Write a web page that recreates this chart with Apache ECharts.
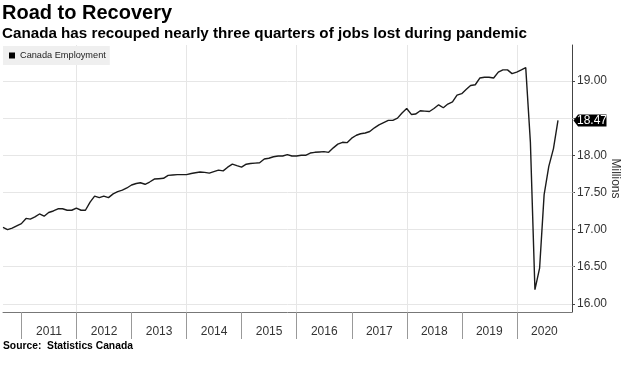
<!DOCTYPE html>
<html>
<head>
<meta charset="utf-8">
<script src="https://cdn.jsdelivr.net/npm/echarts@6/dist/echarts.min.js"></script>
<style>
html,body{margin:0;padding:0;background:#fff;}
#chart{width:625px;height:373px;}
</style>
</head>
<body>
<div id="chart"></div>
<script>
// ---- data (monthly, seasonally adjusted, millions) ----
const seriesName = 'Canada Employment';
const startYear = 2010;
const startMonthIndex = 7; // August (0 = January)
const employment = [
  17.03, 17.00, 17.02, 17.05, 17.08,                               // Aug-Dec 2010
  17.15, 17.14, 17.17, 17.21, 17.18, 17.23, 17.25, 17.28, 17.28, 17.26, 17.26, 17.29, // 2011
  17.26, 17.26, 17.37, 17.45, 17.43, 17.45, 17.43, 17.48, 17.51, 17.53, 17.56, 17.60, // 2012
  17.62, 17.63, 17.61, 17.64, 17.68, 17.685, 17.69, 17.73, 17.735, 17.74, 17.74, 17.74, // 2013
  17.755, 17.765, 17.775, 17.77, 17.76, 17.78, 17.80, 17.79, 17.84, 17.88, 17.86, 17.84, // 2014
  17.88, 17.89, 17.895, 17.90, 17.95, 17.96, 17.98, 17.99, 17.99, 18.01, 17.99, 17.99, // 2015
  18.00, 18.00, 18.03, 18.04, 18.045, 18.05, 18.04, 18.10, 18.15, 18.175, 18.17, 18.23, // 2016
  18.27, 18.29, 18.30, 18.32, 18.37, 18.41, 18.44, 18.47, 18.47, 18.50, 18.57, 18.63, // 2017
  18.55, 18.555, 18.60, 18.595, 18.59, 18.63, 18.68, 18.64, 18.69, 18.72, 18.81, 18.83, // 2018
  18.89, 18.94, 18.95, 19.04, 19.05, 19.05, 19.04, 19.12, 19.15, 19.15, 19.10, 19.12, // 2019
  19.15, 19.18, 18.17, 16.19, 16.48, 17.47, 17.85, 18.09, 18.47     // Jan-Sep 2020
];
const yearLabels = [2011, 2012, 2013, 2014, 2015, 2016, 2017, 2018, 2019, 2020];
const gridYears = [2012, 2014, 2016, 2018, 2020];
const yTickValues = [16, 16.5, 17, 17.5, 18, 18.5, 19];
const yLabelValues = [16, 16.5, 17, 17.5, 18, 19]; // 18.50 is hidden behind the last-value tag
const yAxisName = 'Millions';
const titleText = 'Road to Recovery';
const subtitleText = 'Canada has recouped nearly three quarters of jobs lost during pandemic';
const sourceText = 'Source:  Statistics Canada';

// month-end dates (UTC ms) for each observation
const points = employment.map((v, i) => [Date.UTC(startYear, startMonthIndex + i + 1, 0), v]);
const last = points[points.length - 1];

const xMin = Date.UTC(2010, 7, 31);
const xMax = Date.UTC(2021, 0, 1);
const yearStarts = yearLabels.map(y => Date.UTC(y, 0, 1));
const yearMids = yearLabels.map(y => Date.UTC(y, 6, 2));
const gridStarts = gridYears.map(y => Date.UTC(y, 0, 1));

const axisFont = 'Liberation Sans';
const chart = echarts.init(document.getElementById('chart'), null, {renderer: 'canvas'});
chart.setOption({
  animation: false,
  backgroundColor: '#ffffff',
  title: [
    {text: titleText, left: 2, top: 3, padding: 0,
     textStyle: {fontFamily: 'Liberation Sans', fontWeight: 'bold', fontSize: 20, color: '#000'}},
    {text: subtitleText, left: 2, top: 26, padding: 0,
     textStyle: {fontFamily: 'Liberation Sans', fontWeight: 'bold', fontSize: 15.2, color: '#000'}},
    {text: sourceText, left: 3, top: 341, padding: 0,
     textStyle: {fontFamily: 'Liberation Sans', fontWeight: 'bold', fontSize: 10.3, color: '#000'}}
  ],
  legend: {
    data: [seriesName], left: 3, top: 46, icon: 'rect', itemWidth: 6, itemHeight: 6,
    padding: [5, 4, 5, 6], backgroundColor: '#efefef', selectedMode: false,
    textStyle: {fontFamily: axisFont, fontSize: 9.2, color: '#222'}
  },
  grid: {left: 3, right: 53, top: 45, bottom: 61, containLabel: false, outerBoundsMode: 'none'},
  xAxis: [{
    type: 'value', min: xMin, max: xMax,
    axisLine: {show: true, onZero: false, lineStyle: {color: '#777', width: 1}},
    axisTick: {show: true, customValues: yearStarts, length: 27, lineStyle: {color: '#999'}},
    axisLabel: {show: true, customValues: yearMids, margin: 14, fontFamily: axisFont, fontSize: 12, color: '#333',
      formatter: v => String(new Date(v).getUTCFullYear())},
    splitLine: {show: false}
  }, {
    type: 'value', min: xMin, max: xMax, gridIndex: 0, position: 'bottom',
    axisLine: {show: false, onZero: false}, axisLabel: {show: false},
    axisTick: {show: true, customValues: gridStarts, length: 0, lineStyle: {opacity: 0}},
    splitLine: {show: true, lineStyle: {color: '#e6e6e6', width: 1}}
  }],
  yAxis: {
    type: 'value', position: 'right', min: 15.89, max: 19.485,
    name: yAxisName, nameLocation: 'middle', nameRotate: -90, nameGap: 37, nameMoveOverlap: false,
    nameTextStyle: {fontFamily: axisFont, fontSize: 12, color: '#333'},
    axisLine: {show: true, lineStyle: {color: '#444', width: 1}},
    axisTick: {show: true, customValues: yTickValues, length: 3, lineStyle: {color: '#444'}},
    minorTick: {show: true, splitNumber: 2, length: 2, lineStyle: {color: '#999'}},
    axisLabel: {customValues: yLabelValues, margin: 5, fontFamily: axisFont, fontSize: 12, color: '#333',
      formatter: v => v.toFixed(2)},
    splitLine: {show: true, lineStyle: {color: '#e6e6e6', width: 1}}
  },
  series: [{
    name: seriesName, type: 'line', data: points, showSymbol: false, symbol: 'none',
    xAxisIndex: 0,
    lineStyle: {color: '#1b1b1b', width: 1.4}, itemStyle: {color: '#000'},
    markPoint: {
      symbol: 'path://M0,6 L5,0 L36,0 L36,12 L5,12 Z', symbolKeepAspect: false,
      symbolSize: [33, 12], symbolOffset: [32, 0],
      itemStyle: {color: '#000'},
      label: {show: true, color: '#fff', fontFamily: axisFont, fontSize: 12, offset: [2, 0],
        formatter: p => p.value.toFixed(2)},
      data: [{coord: last, value: last[1]}]
    }
  }]
});
</script>
</body>
</html>
